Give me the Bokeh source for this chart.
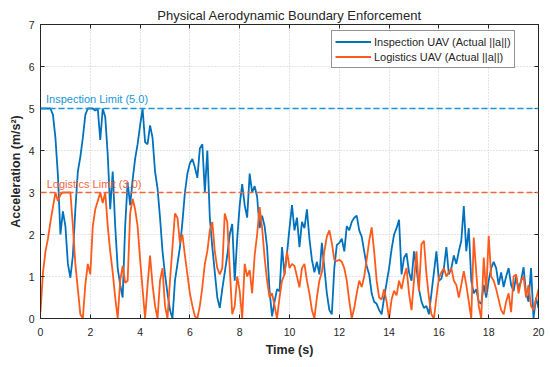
import numpy as np
from bokeh.plotting import figure
from bokeh.models import Span, Label, Legend, LegendItem, LinearAxis, Range1d, FixedTicker, ColumnDataSource
from bokeh.embed import file_html
from bokeh.resources import INLINE

# ---------------- data ----------------
time_s = [round(0.1 * i, 1) for i in range(201)]

inspection = [
    5.0, 5.0, 5.0, 5.0, 5.0, 4.85, 4.3, 3.4, 2.0, 2.55,
    2.2, 1.3, 0.97, 1.5, 2.6, 3.5, 3.85, 4.3, 4.85, 5.0,
    5.0, 5.0, 4.95, 5.0, 4.25, 5.0, 4.8, 3.9, 2.6, 3.5,
    2.2, 1.2, 0.8, 0.5, 2.2, 3.25, 2.7, 3.3, 3.8, 4.15,
    4.6, 5.0, 4.2, 4.15, 4.6, 4.3, 3.5, 3.1, 2.4, 1.6,
    1.05, 0.6, 0.2, 0.0, 0.9, 1.3, 1.7, 2.3, 3.0, 3.45,
    3.7, 3.8, 3.6, 3.35, 4.05, 4.15, 3.0, 4.0, 2.4, 1.7,
    1.1, 0.5, 0.25, 0.7, 1.1, 1.5, 2.0, 2.25, 0.9, 1.9,
    2.7, 3.2, 2.7, 2.4, 3.45, 3.0, 3.15, 2.9, 2.15, 2.45,
    2.2, 1.7, 0.65, 0.05, 0.4, 0.7, 0.65, 1.7, 1.05, 1.55,
    2.15, 2.7, 2.1, 2.4, 1.7, 2.3, 2.15, 2.6, 1.9, 1.4,
    1.1, 1.35, 1.05, 1.8, 1.2, 0.6, 0.2, 0.1, 1.2, 1.75,
    1.8, 1.9, 1.6, 2.2, 2.1, 2.3, 2.4, 2.45, 2.1, 1.95,
    1.6, 1.25, 1.05, 0.6, 0.4, 0.35, 0.2, 0.1, 0.5, 0.85,
    1.2, 1.65, 2.0, 2.15, 2.35, 1.05, 1.45, 1.55, 1.1, 0.9,
    1.6, 1.2, 0.7, 0.4, 0.25, 0.3, 0.1, 0.6, 1.1, 1.6,
    0.9, 0.95, 1.2, 1.7, 1.05, 1.2, 1.5, 1.3, 1.6, 1.85,
    2.68, 1.6, 2.15, 0.9, 0.6, 0.7, 0.4, 0.35, 0.8, 0.5,
    0.9, 1.2, 1.35, 1.2, 0.8, 1.1, 0.75, 1.0, 1.2, 0.8,
    0.65, 1.0, 0.7, 0.9, 1.22, 0.6, 0.4, 1.2, 0.0, 0.5,
    0.25,
]

logistics = [
    0.15, 1.1, 1.6, 1.9, 2.3, 2.65, 3.0, 2.8, 2.95, 3.0,
    3.0, 3.0, 3.0, 2.2, 1.3, 0.7, 0.1, 0.0, 0.8, 1.3,
    1.05, 2.2, 2.6, 2.8, 3.0, 2.75, 3.0, 2.2, 1.6, 1.1,
    0.5, 0.0, 0.9, 1.25, 0.85, 0.9, 2.5, 2.85, 2.6, 2.2,
    1.4, 0.7, 0.0, 0.8, 1.5, 0.8, 0.3, 0.0, 0.9, 1.2,
    0.3, 0.0, 0.9, 1.7, 2.5, 2.4, 1.8, 2.0, 1.5, 1.05,
    0.6, 0.3, 0.05, 0.0, 0.3, 0.75, 1.3, 1.6, 2.1, 2.3,
    1.6, 1.2, 1.05, 1.2, 2.5, 2.3, 1.2, 0.1, 0.3, 1.0,
    0.65, 0.0, 1.3, 1.0, 1.15, 0.6, 1.5, 2.0, 2.65, 2.15,
    1.45, 0.9, 0.5, 0.6, 0.3, 0.0, 0.5, 0.9, 1.05, 1.6,
    1.2, 1.3, 1.25, 1.0, 0.74, 1.2, 1.3, 0.9, 0.6, 0.2,
    0.0, 0.5, 0.9, 1.1, 1.6, 1.95, 2.1, 1.8, 1.4, 1.37,
    1.4, 1.35, 1.2, 0.9, 0.42, 0.0, 0.25, 0.6, 0.9, 0.75,
    1.0, 1.4, 1.85, 2.17, 1.6, 0.9, 0.5, 0.45, 0.7, 0.4,
    0.0, 0.45, 0.66, 0.55, 0.9, 0.7, 1.0, 1.2, 0.6, 0.2,
    0.9, 1.6, 0.65, 1.77, 1.85, 1.05, 0.5, 0.1, 0.0, 0.5,
    0.97, 1.1, 1.2, 1.0, 1.1, 1.2, 0.9, 0.8, 0.5, 0.8,
    1.13, 0.8, 0.4, 0.0, 1.93, 1.1, 0.3, 0.0, 1.45, 0.6,
    1.97, 1.0, 0.9, 0.7, 0.45, 0.2, 0.1, 0.4, 0.6, 0.15,
    1.0, 1.05, 0.6, 0.9, 1.0, 0.5, 0.8, 0.3, 0.2, 0.45,
    0.7,
]

inspection_limit = 5.0
logistics_limit = 3.0
x_ticks = [0, 2, 4, 6, 8, 10, 12, 14, 16, 18, 20]
y_ticks = [0, 1, 2, 3, 4, 5, 6, 7]

# ---------------- styling ----------------
FONT = "Liberation Sans"
INK = "#262626"
BLUE = "#0072BD"
ORANGE = "#FF5A1A"
BLUE_LIM = "#1797D6"
ORANGE_LIM = "#F2683E"

p = figure(width=550, height=367, output_backend="svg", toolbar_location=None,
           x_range=Range1d(0, 20), y_range=Range1d(0, 7),
           min_border_left=40, min_border_right=12, min_border_top=24, min_border_bottom=49,
           background_fill_color="white", border_fill_color="white")

p.title.text = "Physical Aerodynamic Boundary Enforcement"
p.title.align = "center"
p.title.text_font = FONT
p.title.text_font_size = "13px"
p.title.text_font_style = "normal"
p.title.text_color = INK
p.title.standoff = 3
p.title.offset = 0

p.outline_line_color = INK
p.outline_line_width = 1

for ax in (p.xaxis[0], p.yaxis[0]):
    ax.major_label_text_font = FONT
    ax.major_label_text_font_size = "10.5px"
    ax.major_label_text_color = INK
    ax.axis_line_color = INK
    ax.major_tick_line_color = INK
    ax.major_tick_in = 4
    ax.major_tick_out = 0
    ax.minor_tick_line_color = None
    ax.axis_label_text_font = FONT
    ax.axis_label_text_font_size = "12.5px"
    ax.axis_label_text_font_style = "bold"
    ax.axis_label_text_color = INK

p.xaxis.ticker = FixedTicker(ticks=x_ticks)
p.yaxis.ticker = FixedTicker(ticks=y_ticks)
p.xaxis.axis_label = "Time (s)"
p.yaxis.axis_label = "Acceleration (m/s²)"
p.xaxis.major_label_standoff = 9
p.xaxis.axis_label_standoff = 4
p.yaxis.major_label_standoff = 6
p.yaxis.axis_label_standoff = 3

# top / right tick marks (box on), no labels drawn
top = LinearAxis(ticker=FixedTicker(ticks=x_ticks), major_label_text_font_size="1px",
                 major_label_text_color=None,
                 major_tick_in=4, major_tick_out=0, minor_tick_line_color=None,
                 axis_line_color=INK, major_tick_line_color=INK, major_label_standoff=0)
right = LinearAxis(ticker=FixedTicker(ticks=y_ticks), major_label_text_font_size="1px",
                   major_label_text_color=None,
                   major_tick_in=4, major_tick_out=0, minor_tick_line_color=None,
                   axis_line_color=INK, major_tick_line_color=INK, major_label_standoff=0)
p.add_layout(top, "above")
p.add_layout(right, "right")

p.xgrid.grid_line_color = "#c8c8c8"
p.ygrid.grid_line_color = "#c8c8c8"
p.xgrid.grid_line_dash = "1 2"
p.ygrid.grid_line_dash = "1 2"
p.xgrid.grid_line_width = 1
p.ygrid.grid_line_width = 1

src = ColumnDataSource(dict(t=time_s, ins=inspection, log=logistics))

# limit lines
p.add_layout(Span(location=inspection_limit, dimension="width", line_color=BLUE_LIM,
                  line_dash="6 3", line_width=1.6))
p.add_layout(Span(location=logistics_limit, dimension="width", line_color=ORANGE_LIM,
                  line_dash="6 3", line_width=1.3))

r_ins = p.line("t", "ins", source=src, line_color=BLUE, line_width=1.8)
r_log = p.line("t", "log", source=src, line_color=ORANGE, line_width=1.8)

p.add_layout(Label(x=0.22, y=inspection_limit + 0.08, text="Inspection Limit (5.0)",
                   text_font=FONT, text_font_size="11px", text_color=BLUE_LIM,
                   text_baseline="bottom"))
p.add_layout(Label(x=0.25, y=logistics_limit + 0.06, text="Logistics Limit (3.0)",
                   text_font=FONT, text_font_size="11px", text_color=ORANGE_LIM,
                   text_baseline="bottom"))

legend = Legend(items=[LegendItem(label="Inspection UAV (Actual ||a||)", renderers=[r_ins]),
                       LegendItem(label="Logistics UAV (Actual ||a||)", renderers=[r_log])],
                location=(291, 250), orientation="vertical",
                label_text_font=FONT, label_text_font_size="11px", label_text_color=INK,
                glyph_width=36, glyph_height=15, label_height=15, label_standoff=3,
                padding=3, spacing=0, margin=0,
                border_line_color=INK, border_line_width=1,
                background_fill_color="white", background_fill_alpha=1)
p.add_layout(legend)

open("out.html", "w").write(file_html(p, INLINE))
